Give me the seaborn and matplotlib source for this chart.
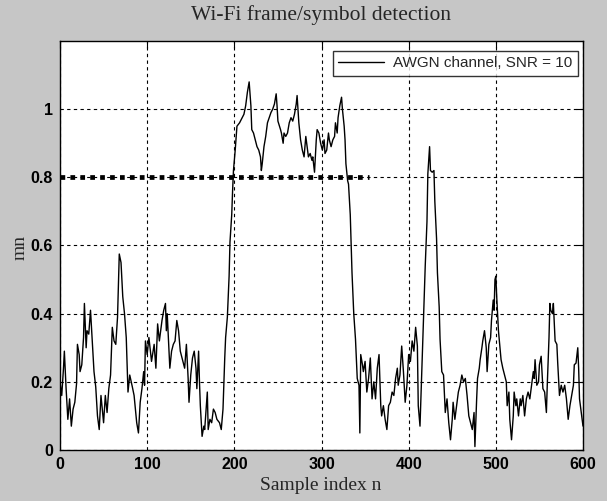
import matplotlib
matplotlib.use("Agg")
import matplotlib.pyplot as plt
import seaborn as sns
import pandas as pd

# ---- data ----
sample_n = [0, 2, 4, 5, 7, 9, 11, 13, 15, 17, 19, 20, 22, 23, 25, 27, 28, 30, 31, 33,
            35, 37, 39, 41, 43, 45, 47, 50, 52, 54, 56, 58, 60, 62, 64, 66, 68, 70, 72, 74,
            76, 78, 80, 83, 85, 88, 90, 92, 94, 96, 97, 98, 100, 102, 105, 108, 110, 112, 114, 117,
            119, 121, 122, 123, 126, 128, 130, 132, 134, 136, 138, 140, 143, 145, 147, 148, 150, 152, 154, 156,
            157, 159, 160, 161, 163, 165, 166, 169, 170, 172, 174, 176, 178, 180, 183, 185, 187, 189, 190, 192,
            194, 195, 197, 198, 199, 201, 203, 206, 208, 211, 213, 215, 217, 219, 220, 222, 224, 226, 228, 230,
            231, 232, 234, 236, 238, 240, 242, 244, 246, 248, 249, 250, 253, 254, 256, 257, 259, 261, 263, 265,
            267, 269, 271, 272, 273, 274, 276, 278, 280, 282, 284, 285, 287, 289, 290, 292, 294, 295, 297, 299,
            301, 303, 304, 306, 308, 309, 311, 313, 315, 316, 318, 319, 321, 323, 324, 326, 327, 328, 330, 331,
            333, 335, 337, 339, 341, 343, 344, 345, 347, 348, 350, 352, 354, 356, 358, 360, 362, 364, 366, 368,
            369, 371, 373, 375, 377, 379, 381, 383, 385, 387, 388, 390, 392, 394, 396, 398, 400, 402, 404, 406,
            408, 410, 411, 413, 415, 417, 419, 421, 422, 424, 425, 427, 429, 430, 432, 433, 435, 436, 438, 440,
            442, 444, 446, 448, 450, 451, 453, 455, 457, 459, 461, 463, 465, 467, 469, 470, 472, 473, 475, 476,
            478, 479, 481, 482, 484, 485, 487, 489, 490, 492, 494, 495, 497, 498, 499, 500, 501, 503, 505, 506,
            508, 510, 512, 513, 515, 516, 518, 520, 521, 523, 524, 526, 528, 529, 531, 533, 535, 537, 539, 541,
            543, 544, 545, 547, 549, 550, 552, 554, 556, 558, 559, 561, 562, 563, 565, 566, 568, 570, 571, 573,
            575, 577, 579, 581, 583, 585, 587, 589, 590, 592, 594, 595, 596, 598, 600]
mn_values = [.20, .16, .24, .29, .18, .09, .15, .07, .12, .14, .195, .31, .28, .23, .25, .33, .43, .30, .35, .34,
             .41, .32, .23, .185, .10, .06, .16, .08, .16, .11, .18, .22, .36, .32, .31, .39, .575, .55, .45, .40,
             .33, .17, .22, .185, .16, .08, .05, .14, .18, .23, .19, .32, .28, .33, .26, .31, .24, .37, .32, .38,
             .41, .43, .35, .40, .24, .29, .31, .32, .38, .35, .29, .27, .24, .31, .21, .14, .22, .27, .29, .24,
             .18, .29, .20, .13, .04, .07, .06, .17, .06, .09, .08, .12, .11, .09, .08, .06, .12, .27, .33, .39,
             .51, .61, .69, .76, .82, .88, .95, .96, .97, .985, 1.01, 1.05, 1.08, 1.01, .94, .93, .91, .89, .88, .86,
             .82, .84, .89, .92, .96, .975, .99, 1.0, 1.015, 1.045, 1.01, .965, .94, .93, .90, .93, .92, .93, .96, .975,
             .965, .985, 1.015, 1.04, 1.0, .96, .91, .88, .86, .92, .88, .86, .87, .85, .86, .815, .91, .94, .93, .90,
             .88, .91, .87, .88, .93, .91, .89, .91, .92, .96, .93, .975, 1.01, 1.035, 1.0, .95, .91, .84, .79, .78,
             .69, .52, .40, .325, .21, .19, .05, .28, .25, .23, .26, .17, .21, .27, .15, .20, .15, .24, .28, .13,
             .10, .13, .09, .06, .13, .14, .17, .16, .21, .24, .19, .22, .305, .23, .14, .19, .28, .26, .32, .29,
             .36, .305, .13, .07, .23, .39, .54, .67, .81, .89, .82, .815, .82, .73, .62, .52, .42, .325, .23, .22,
             .11, .15, .08, .03, .09, .14, .09, .13, .17, .19, .22, .20, .21, .16, .10, .09, .07, .06, .11, .01,
             .15, .21, .24, .265, .30, .32, .35, .30, .23, .31, .33, .38, .44, .41, .50, .51, .45, .35, .295, .265,
             .24, .22, .20, .13, .17, .09, .03, .10, .17, .13, .15, .10, .15, .13, .16, .10, .15, .17, .15, .19,
             .23, .21, .265, .19, .20, .25, .275, .18, .17, .11, .19, .33, .43, .41, .40, .43, .32, .31, .255, .16,
             .19, .17, .19, .15, .09, .13, .16, .19, .25, .255, .30, .24, .15, .11, .07]
threshold_n = [0, 355]
threshold_mn = [0.8, 0.8]
series_label = "AWGN channel, SNR = 10"
title_text = "Wi-Fi frame/symbol detection"
xlabel_text = "Sample index n"
ylabel_text = "mn"
x_ticks = [0, 100, 200, 300, 400, 500, 600]
y_ticks = [0, 0.2, 0.4, 0.6, 0.8, 1.0]
y_tick_labels = ["0", "0.2", "0.4", "0.6", "0.8", "1"]

sns.set_style("white")
plt.rcParams["font.family"] = ["Liberation Sans", "DejaVu Sans"]

W, H = 607, 501
fig = plt.figure(figsize=(W / 100, H / 100), dpi=100)
fig.patch.set_facecolor("#c6c6c6")
ax = fig.add_axes([60 / W, (H - 450) / H, 523 / W, 409 / H])
ax.set_facecolor("white")

df = pd.DataFrame({"n": sample_n, "mn": mn_values})
sns.lineplot(data=df, x="n", y="mn", ax=ax, color="black", linewidth=1.0,
             sort=False, estimator=None, label=series_label, legend=False)
thr = pd.DataFrame({"n": threshold_n, "mn": threshold_mn})
sns.lineplot(data=thr, x="n", y="mn", ax=ax, color="black", linewidth=3.4,
             linestyle=(0, (1.0, 1.1)), sort=False, estimator=None, legend=False)
for l in ax.lines[1:]:
    l.set_dash_capstyle("butt")

ax.set_xlim(0, 600)
ax.set_ylim(0, 1.2)
ax.set_xticks(x_ticks)
ax.set_xticklabels([str(t) for t in x_ticks])
ax.set_yticks(y_ticks)
ax.set_yticklabels(y_tick_labels)
ax.grid(True, color="black", linestyle=(0, (3, 3)), linewidth=0.8)
ax.tick_params(direction="in", length=5, width=0.8, top=True, right=True,
               labelsize=11.5, pad=5, colors="black")
for lab in ax.get_xticklabels() + ax.get_yticklabels():
    lab.set_fontweight("bold")
for s in ax.spines.values():
    s.set_visible(True)
    s.set_color("black")
    s.set_linewidth(1.0)
ax.set_xlabel("")
ax.set_ylabel("")

leg_line = ax.lines[0]
leg = ax.legend([leg_line], [series_label], loc="upper right",
                bbox_to_anchor=((578 - 60) / 523, (450 - 51) / 409),
                borderaxespad=0, frameon=True, fancybox=False, fontsize=11,
                handlelength=3.0, handletextpad=0.6, borderpad=0.35)
leg.get_frame().set_edgecolor("black")
leg.get_frame().set_linewidth(1.0)

fig.text(321 / W, 1 - 15 / H, title_text, ha="center", va="center",
         family="Liberation Serif", fontsize=15.5)
fig.text(321 / W, 1 - 486 / H, xlabel_text, ha="center", va="center",
         family="Liberation Serif", fontsize=14)
fig.text(20 / W, 1 - 248 / H, ylabel_text, ha="center", va="center",
         family="Liberation Serif", fontsize=14, rotation=90)

fig.savefig("out.png", dpi=100, facecolor=fig.get_facecolor())
